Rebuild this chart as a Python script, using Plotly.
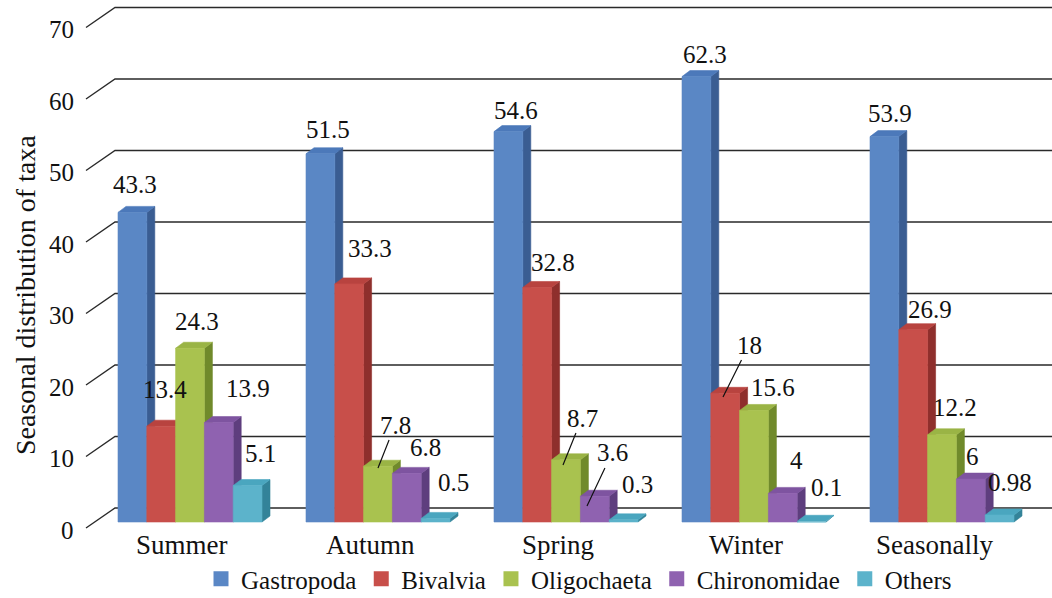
import plotly.graph_objects as go

# ---- data -------------------------------------------------------------
seasons = ["Summer", "Autumn", "Spring", "Winter", "Seasonally"]
taxa = ["Gastropoda", "Bivalvia", "Oligochaeta", "Chironomidae", "Others"]
gastropoda = [43.3, 51.5, 54.6, 62.3, 53.9]
bivalvia = [13.4, 33.3, 32.8, 18, 26.9]
oligochaeta = [24.3, 7.8, 8.7, 15.6, 12.2]
chironomidae = [13.9, 6.8, 3.6, 4, 6]
others = [5.1, 0.5, 0.3, 0.1, 0.98]
y_ticks = [0, 10, 20, 30, 40, 50, 60, 70]
y_title = "Seasonal distribution of taxa"

series = [gastropoda, bivalvia, oligochaeta, chironomidae, others]

# ---- styling ------------------------------------------------------------
FONT = "Liberation Serif"
front_col = ["#5A87C5", "#C84F4A", "#A9C24F", "#8F62B0", "#5CB3CB"]
top_col = ["#4C79BA", "#B8433F", "#9AB445", "#7E54A0", "#4AA6BF"]
side_col = ["#3A5D92", "#8E2F2C", "#708A2B", "#5E3E7E", "#338399"]

# page geometry (pixels)
W, H = 1052, 598
GROUP_PX = 188.0      # distance between category groups
X0_PX = 190.0         # centre of first group
UNIT_PX = 7.15        # pixels per value unit
BASE_PX = 522.0       # zero line at bar fronts
BAR_PX = 28.8         # bar width
DEPTH_X, DEPTH_Y = 8.0, 6.0     # bar depth projection
WALL_FRONT_X, WALL_BACK_X = 86.0, 115.0
WALL_FRONT_DY, WALL_BACK_DY = -6.0, 14.0

def px_x(px):
    return (px - X0_PX) / GROUP_PX

def dv(py):
    return py / UNIT_PX

BW = BAR_PX / GROUP_PX
DX = DEPTH_X / GROUP_PX
DY = dv(DEPTH_Y)

# label placement (pixels right / down from the bar's top-front centre)
label_offsets = [
    [(2.6, -28.4), (7.6, -23.8), (7.6, -21.6), (8.6, -21.6), (5.6, -23.6)],
    [(3.8, -36.2), (20.8, -34.9), (15.8, -24.5), None, (16.8, -19.7)],
    [(7.0, -26.3), None, None, (19.0, -22.5), (13.0, -26.8)],
    [(29.2, -34.6), (18.2, -25.4), None, (13.2, -33.4), (1.2, -23.1)],
    [(12.4, -32.5), (17.4, -36.4), (13.4, -34.9), (14.4, -33.3), (10.4, -32.0)],
]
# labels with leader lines: (series, season) -> head dx, head dy, text dx, text dy
leaders = {
    (2, 1): (0.0, 1.8, 17, -43),
    (2, 2): (-3.0, 5.2, 19, -47),
    (3, 2): (-7.8, 9.7, 25, -53),
    (1, 3): (-2.2, 3.7, 26, -52),
}

fig = go.Figure()

# ---- walls: diagonal tick edges + back gridlines -----------------------
gx, gy = [], []
for v in y_ticks:
    gx += [px_x(WALL_FRONT_X), px_x(WALL_BACK_X), px_x(W + 5), None]
    gy += [v + dv(WALL_FRONT_DY), v + dv(WALL_BACK_DY), v + dv(WALL_BACK_DY), None]
fig.add_trace(go.Scatter(x=gx, y=gy, mode="lines",
                         line=dict(color="#2a2a2a", width=1.4),
                         hoverinfo="skip", showlegend=False))

# ---- 3D columns ---------------------------------------------------------
for j, vals in enumerate(series):
    sx, sy, tx, ty, fx, fy = [], [], [], [], [], []
    for i, v in enumerate(vals):
        xc = i + (j - 2) * BW
        x0, x1 = xc - BW / 2, xc + BW / 2
        sx += [x1, x1 + DX, x1 + DX, x1, x1, None]
        sy += [0, DY, v + DY, v, 0, None]
        tx += [x0, x1, x1 + DX, x0 + DX, x0, None]
        ty += [v, v, v + DY, v + DY, v, None]
        fx += [x0, x1, x1, x0, x0, None]
        fy += [0, 0, v, v, 0, None]
    for xs, ys, col in ((sx, sy, side_col[j]), (tx, ty, top_col[j]), (fx, fy, front_col[j])):
        fig.add_trace(go.Scatter(x=xs, y=ys, mode="lines", fill="toself",
                                 fillcolor=col, line=dict(color=col, width=0.6),
                                 hoverinfo="skip", showlegend=False))

# legend entries
for j, name in enumerate(taxa):
    fig.add_trace(go.Scatter(x=[None], y=[None], mode="markers", name=name,
                             marker=dict(symbol="square", size=15, color=front_col[j])))

# ---- value labels -------------------------------------------------------
annotations = []
for j, vals in enumerate(series):
    for i, v in enumerate(vals):
        xc = i + (j - 2) * BW
        text = f"{v:g}"
        if (j, i) in leaders:
            hx, hy, ax, ay = leaders[(j, i)]
            annotations.append(dict(x=xc, y=v, xref="x", yref="y", text=text,
                                    xshift=hx, yshift=-hy, showarrow=True,
                                    arrowhead=0, arrowwidth=1.2, arrowcolor="#111",
                                    standoff=0, ax=ax, ay=ay,
                                    font=dict(family=FONT, size=25, color="#111")))
        else:
            dx, dy = label_offsets[j][i]
            annotations.append(dict(x=xc, y=v, xref="x", yref="y", text=text,
                                    xshift=dx, yshift=-dy, showarrow=False,
                                    xanchor="center", yanchor="middle",
                                    font=dict(family=FONT, size=25, color="#111")))

# value-axis tick labels
for v in y_ticks:
    annotations.append(dict(x=px_x(76), y=v + dv(WALL_FRONT_DY - 2), xref="x", yref="y",
                            text=str(v), showarrow=False, xanchor="right",
                            yanchor="middle",
                            font=dict(family=FONT, size=25, color="#111")))

# category labels
for i, s in enumerate(seasons):
    annotations.append(dict(x=i - 8 / GROUP_PX, y=dv(BASE_PX - 545), xref="x", yref="y",
                            text=s, showarrow=False, xanchor="center", yanchor="middle",
                            font=dict(family=FONT, size=27, color="#111")))

# axis title
annotations.append(dict(x=25 / W, y=1 - 295 / H, xref="paper", yref="paper",
                        text=y_title, textangle=-90, showarrow=False,
                        xanchor="center", yanchor="middle",
                        font=dict(family=FONT, size=28, color="#111")))

fig.update_layout(
    width=W, height=H,
    margin=dict(l=0, r=0, t=0, b=0, autoexpand=False),
    paper_bgcolor="white", plot_bgcolor="white",
    xaxis=dict(range=[px_x(0), px_x(W)], visible=False, fixedrange=True),
    yaxis=dict(range=[dv(BASE_PX - H), dv(BASE_PX)], visible=False, fixedrange=True),
    annotations=annotations,
    showlegend=True,
    legend=dict(orientation="h", x=579 / W, xanchor="center", y=1 - 579 / H,
                yanchor="middle", bgcolor="rgba(0,0,0,0)",
                font=dict(family=FONT, size=25, color="#111"),
                itemclick=False, itemdoubleclick=False),
)

fig.write_html("out.html")
